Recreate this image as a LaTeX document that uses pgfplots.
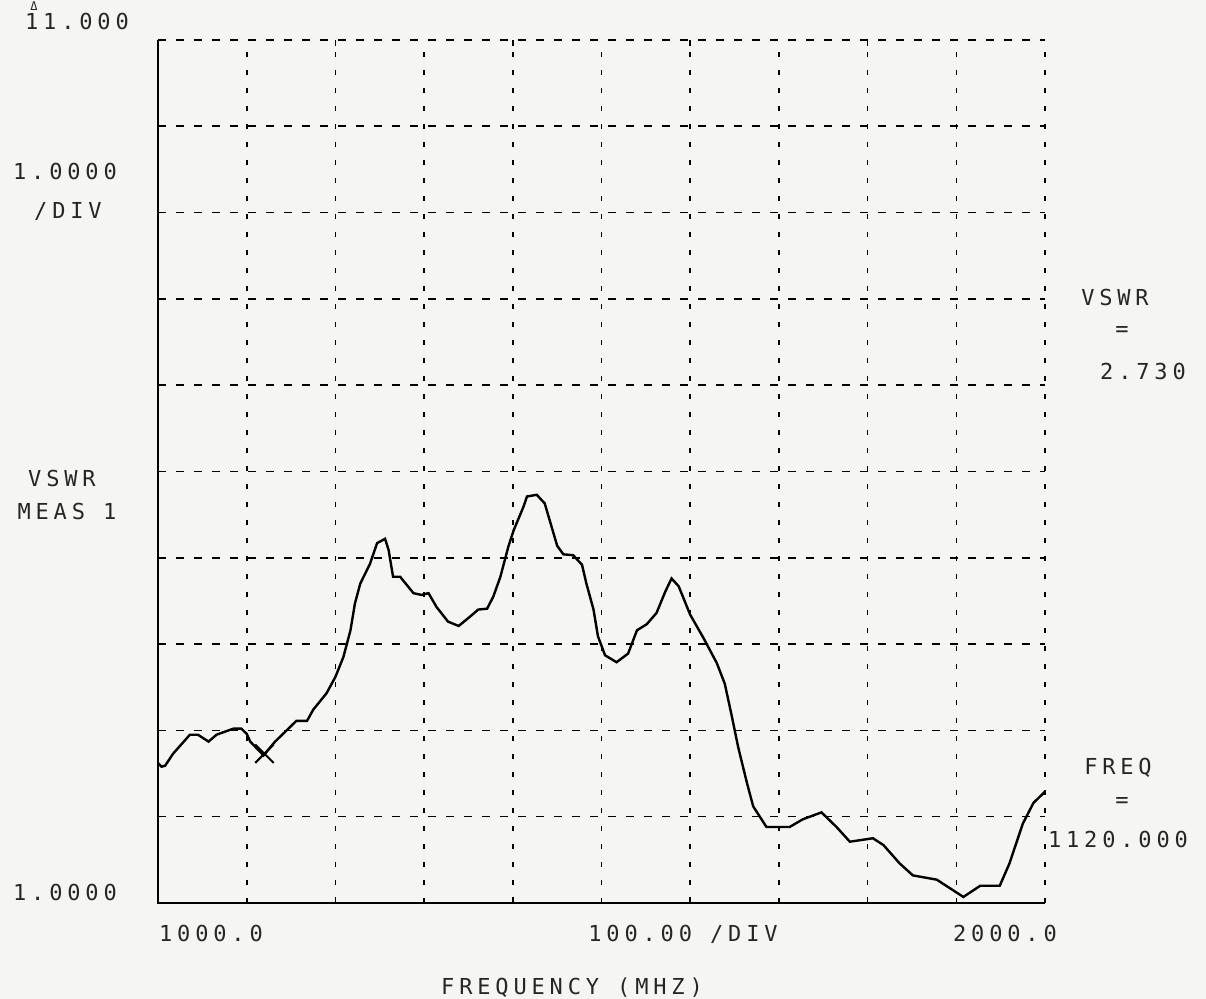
\documentclass[border=0pt]{standalone}
\usepackage{pgfplots}
\pgfplotsset{compat=1.18}
\usepackage{fontspec}
\newfontfamily\pf[LetterSpace=22]{DejaVu Sans Mono}
\definecolor{bg}{RGB}{245,245,244}
\begin{document}
\begin{tikzpicture}
\useasboundingbox (-79pt,-48pt) rectangle (524pt,451.5pt);
\fill[bg] (-79pt,-48pt) rectangle (524pt,451.5pt);
\begin{axis}[
  at={(0,0)}, anchor=south west,
  scale only axis, width=443.5pt, height=431.5pt,
  xmin=1000, xmax=2000, ymin=1, ymax=11,
  xtick={1000,1100,...,2000}, ytick={1,2,...,11},
  xticklabels={}, yticklabels={},
  major tick length=0pt,
  grid=major,
  major x grid style={black, line width=0.8pt, dash pattern=on 2.5pt off 6.5pt},
  major y grid style={black, line width=0.8pt, dash pattern=on 4pt off 5pt},
  axis line style={draw=none},
  extra x ticks={1200,1400,1600,1800},
  extra x tick labels={},
  extra x tick style={grid=none, major tick length=3pt, tick align=inside, tick style={black, line width=0.8pt}},
  clip=false,
]
\draw[black, line width=1pt] (rel axis cs:0,1) -- (rel axis cs:0,0) -- (rel axis cs:1,0);
\addplot[black, line width=1.2pt] coordinates {
(1000,2.62) (1004,2.58) (1008,2.59) (1017,2.73) (1036,2.95) (1045,2.95)
(1057,2.87) (1066,2.95) (1085,3.02) (1094,3.02) (1100,2.96) (1104,2.87)
(1119,2.71) (1132,2.87) (1141,2.96) (1156,3.11) (1168,3.11) (1175,3.24)
(1190,3.43) (1200,3.62) (1209,3.85) (1217,4.16) (1222,4.47) (1228,4.70)
(1239,4.93) (1247,5.17) (1256,5.22) (1260,5.09) (1265,4.78) (1273,4.78)
(1288,4.59) (1297,4.57) (1305,4.59) (1314,4.43) (1327,4.26) (1339,4.21)
(1352,4.32) (1361,4.40) (1371,4.41) (1378,4.55) (1386,4.78) (1395,5.13)
(1401,5.32) (1412,5.59) (1416,5.71) (1427,5.73) (1436,5.63) (1442,5.42)
(1450,5.14) (1457,5.04) (1468,5.03) (1478,4.92) (1483,4.70) (1491,4.40)
(1496,4.09) (1504,3.87) (1517,3.79) (1530,3.89) (1540,4.16) (1551,4.23)
(1562,4.36) (1572,4.61) (1579,4.76) (1587,4.67) (1600,4.34) (1615,4.07)
(1630,3.78) (1639,3.54) (1647,3.16) (1654,2.81) (1664,2.39) (1671,2.12)
(1686,1.88) (1712,1.88) (1727,1.97) (1748,2.05) (1765,1.88) (1780,1.71)
(1806,1.75) (1818,1.67) (1836,1.46) (1851,1.32) (1878,1.27) (1893,1.17)
(1908,1.07) (1927,1.20) (1949,1.20) (1960,1.46) (1975,1.92) (1987,2.16)
(2000,2.29)
};
\addplot[only marks, mark=x, mark size=6.5pt, black, line width=1pt] coordinates {(1120,2.73)};
\end{axis}
\begin{scope}[every node/.style={font=\pf\fontsize{11}{13}\selectfont, inner sep=0pt, text=black!85}]
\node at (-40.5pt,440.5pt) {11.000};
\node[font=\pf\fontsize{6}{7}\selectfont] at (-62pt,448.5pt) {Δ};
\node at (-46.5pt,365.5pt) {1.0000};
\node at (-45pt,345.5pt) {/DIV};
\node at (-48pt,212pt) {VSWR};
\node at (-45.5pt,195.5pt) {MEAS 1};
\node at (-46.5pt,5pt) {1.0000};
\node at (26.5pt,-15.5pt) {1000.0};
\node at (262.5pt,-15.5pt) {100.00 /DIV};
\node at (423.5pt,-15.5pt) {2000.0};
\node at (207pt,-42.5pt) {FREQUENCY (MHZ)};
\node at (478.5pt,302.5pt) {VSWR};
\node at (482pt,285.5pt) {=};
\node at (492.5pt,265.5pt) {2.730};
\node at (480pt,67.5pt) {FREQ};
\node at (482pt,50pt) {=};
\node at (480pt,31.5pt) {1120.000};
\end{scope}
\end{tikzpicture}
\end{document}
